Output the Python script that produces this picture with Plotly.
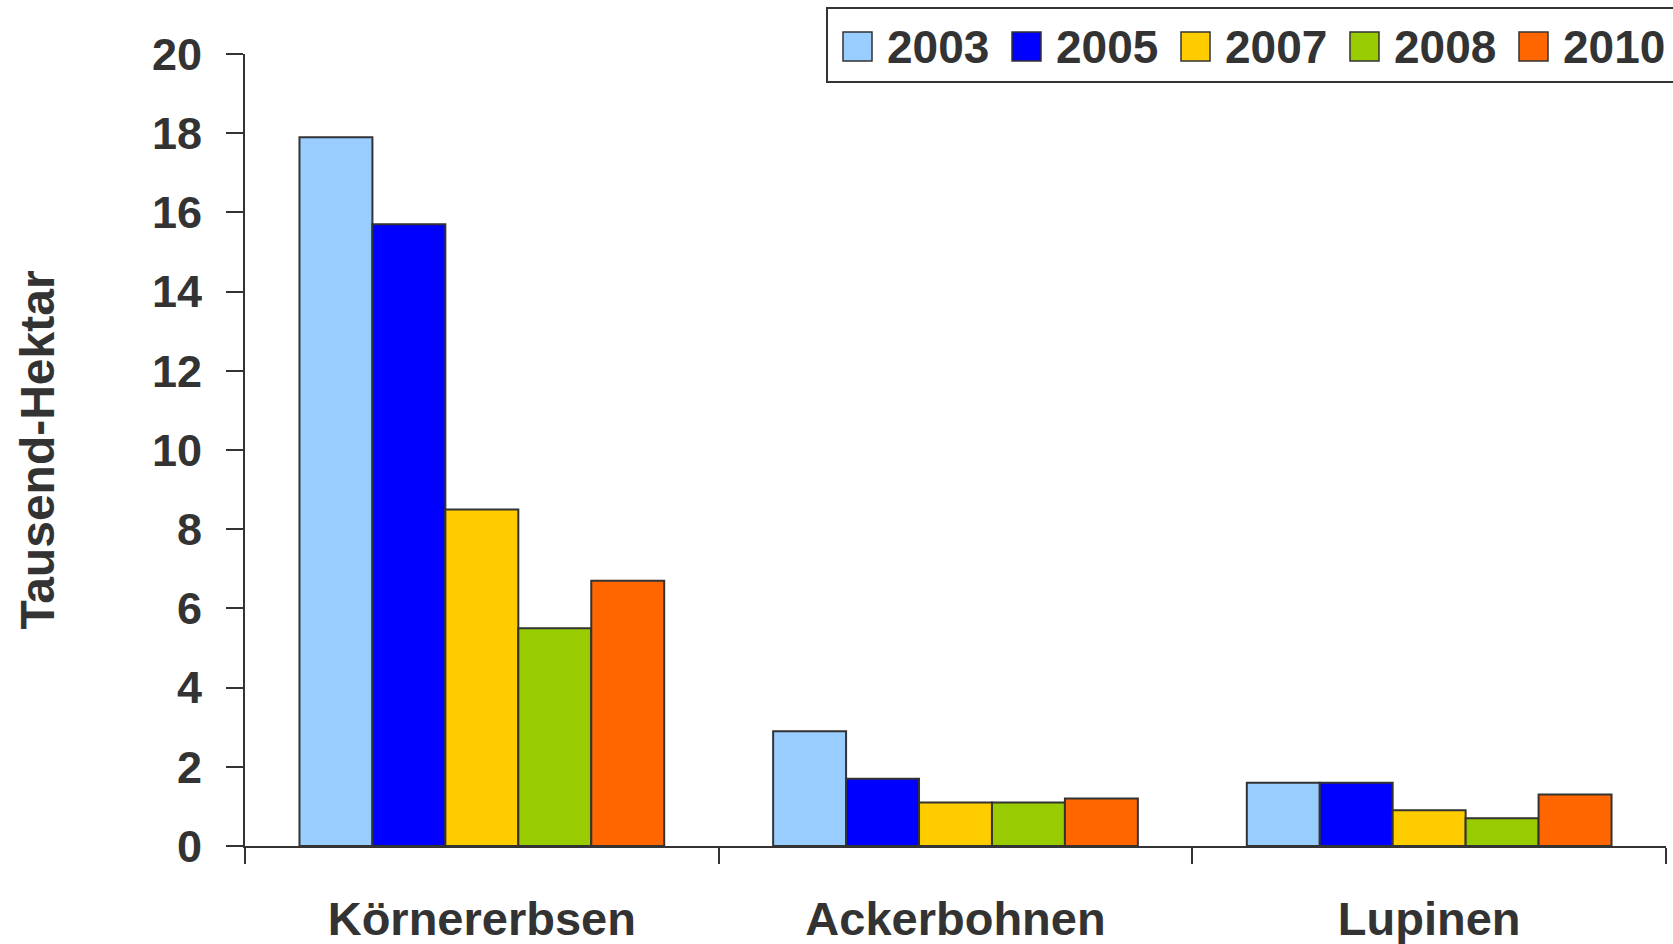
import plotly.graph_objects as go

categories = ["Körnererbsen", "Ackerbohnen", "Lupinen"]
years = ["2003", "2005", "2007", "2008", "2010"]
values_2003 = [17.9, 2.9, 1.6]
values_2005 = [15.7, 1.7, 1.6]
values_2007 = [8.5, 1.1, 0.9]
values_2008 = [5.5, 1.1, 0.7]
values_2010 = [6.7, 1.2, 1.3]
series = [values_2003, values_2005, values_2007, values_2008, values_2010]
colors = ["#99CCFF", "#0000FF", "#FFCC00", "#99CC00", "#FF6600"]
y_tick_values = [0, 2, 4, 6, 8, 10, 12, 14, 16, 18, 20]
y_title = "Tausend-Hektar"

TXT = "#333333"
FONT = "Liberation Sans"

W, H = 1673, 944
ML, MR, MT, MB = 245, 7, 54, 98
PW, PH = W - ML - MR, H - MT - MB

fig = go.Figure()
for year, vals, col in zip(years, series, colors):
    fig.add_trace(go.Bar(
        x=categories, y=vals, name=year,
        marker=dict(color=col, line=dict(color=TXT, width=2)),
        showlegend=False,
    ))

# custom legend (large swatches like the original)
def px_to_paper_x(px):
    return (px - ML) / PW

def px_to_paper_y(py):
    return (H - MB - py) / PH

shapes = [dict(type="rect", xref="paper", yref="paper",
               x0=px_to_paper_x(827), x1=px_to_paper_x(1690),
               y0=px_to_paper_y(82), y1=px_to_paper_y(8),
               line=dict(color=TXT, width=2), fillcolor="white", layer="above")]
annotations = []
start, step = 843, 169
for i, (year, col) in enumerate(zip(years, colors)):
    x0 = start + i * step
    shapes.append(dict(type="rect", xref="paper", yref="paper",
                       x0=px_to_paper_x(x0), x1=px_to_paper_x(x0 + 29),
                       y0=px_to_paper_y(61), y1=px_to_paper_y(32),
                       line=dict(color=TXT, width=1.5), fillcolor=col, layer="above"))
    annotations.append(dict(xref="paper", yref="paper",
                            x=px_to_paper_x(x0 + 42), y=px_to_paper_y(47),
                            xanchor="left", yanchor="middle", showarrow=False,
                            text=year,
                            font=dict(family=FONT, size=46, color=TXT, weight="bold")))

fig.update_layout(
    width=W, height=H,
    margin=dict(l=ML, r=MR, t=MT, b=MB, autoexpand=False),
    paper_bgcolor="white", plot_bgcolor="white",
    barmode="group", bargap=0.23, bargroupgap=0,
    font=dict(family=FONT, color=TXT, weight="bold"),
    shapes=shapes, annotations=annotations,
    xaxis=dict(
        showline=True, linecolor=TXT, linewidth=2,
        ticks="outside", tickson="boundaries", ticklen=16, tickwidth=2, tickcolor=TXT,
        tickfont=dict(family=FONT, size=47, color=TXT, weight="bold"),
        ticklabelstandoff=31,
        showgrid=False, automargin=False,
    ),
    yaxis=dict(
        range=[0, 20], tickvals=y_tick_values,
        showline=True, linecolor=TXT, linewidth=2,
        ticks="outside", ticklen=17, tickwidth=2, tickcolor=TXT,
        tickfont=dict(family=FONT, size=45, color=TXT, weight="bold"),
        ticklabelstandoff=15,
        showgrid=False, zeroline=False, automargin=False,
        title=dict(text=y_title, standoff=82,
                   font=dict(family=FONT, size=48, color=TXT, weight="bold")),
    ),
)

fig.write_html("out.html", config={"displayModeBar": False},
               post_script="document.body.style.margin='0';")
